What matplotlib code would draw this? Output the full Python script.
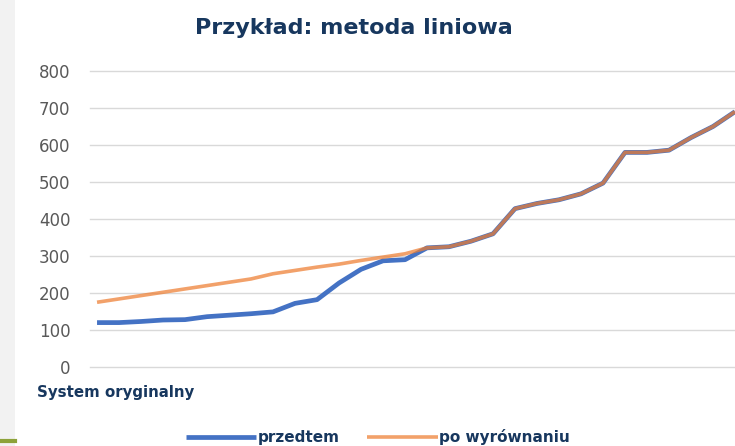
import matplotlib.pyplot as plt
from matplotlib.patches import Rectangle
from matplotlib.lines import Line2D

# values
points = list(range(30))
przedtem = [120, 120, 123, 127, 128, 136, 140, 144, 149, 172,
            182, 227, 264, 287, 290, 322, 325, 340, 360, 428,
            442, 452, 468, 497, 580, 580, 586, 620, 650, 690]
po_wyrownaniu = [175, 184, 193, 202, 211, 220, 229, 238, 252, 261,
                 270, 278, 288, 297, 306, 322, 325, 340, 360, 428,
                 442, 452, 468, 497, 580, 580, 586, 620, 650, 690]
y_ticks = [0, 100, 200, 300, 400, 500, 600, 700, 800]

navy = "#17375E"
blue = "#4472C4"
orange = "#ED7D31"

fig = plt.figure(figsize=(7.35, 4.46), dpi=100)

# slide decoration on the left edge
fig.patches.append(Rectangle((0, 0), 15 / 735, 1, transform=fig.transFigure,
                             facecolor="#F2F2F2", edgecolor="none", zorder=0))
fig.lines.append(Line2D([0, 15 / 735], [1 - 441 / 446] * 2, transform=fig.transFigure,
                        color="#8DA23A", lw=3))

ax = fig.add_axes([90 / 735, 1 - 367 / 446, 1 - 90 / 735, 296 / 446])
ax.plot(points, przedtem, color=blue, lw=3.4, solid_capstyle="butt", label="przedtem")
ax.plot(points, po_wyrownaniu, color=orange, lw=2.6, alpha=0.72,
        solid_capstyle="butt", label="po wyrównaniu")

ax.set_xlim(-0.32, 29)
ax.set_ylim(0, 800)
ax.set_yticks(y_ticks)
ax.set_xticks([])
ax.grid(axis="y", color="#D9D9D9", lw=1)
for gl in ax.get_ygridlines():
    gl.set_clip_on(False)
ax.set_axisbelow(True)
for s in ax.spines.values():
    s.set_visible(False)
ax.tick_params(axis="y", length=0, pad=14, labelsize=12, labelcolor="#595959")

fig.text(354 / 735, 1 - 28 / 446, "Przykład: metoda liniowa", ha="center", va="center",
         fontsize=16, fontweight="bold", color=navy)
fig.text(37 / 735, 1 - 392 / 446, "System oryginalny", ha="left", va="center",
         fontsize=10.8, fontweight="bold", color=navy)

leg = fig.legend(loc="center", bbox_to_anchor=(378 / 735, 1 - 437 / 446), ncol=2,
                 frameon=False, handlelength=4.6, handletextpad=0.1, columnspacing=1.8,
                 prop={"weight": "bold", "size": 11})
for t in leg.get_texts():
    t.set_color(navy)

fig.savefig("out.png", dpi=100)
